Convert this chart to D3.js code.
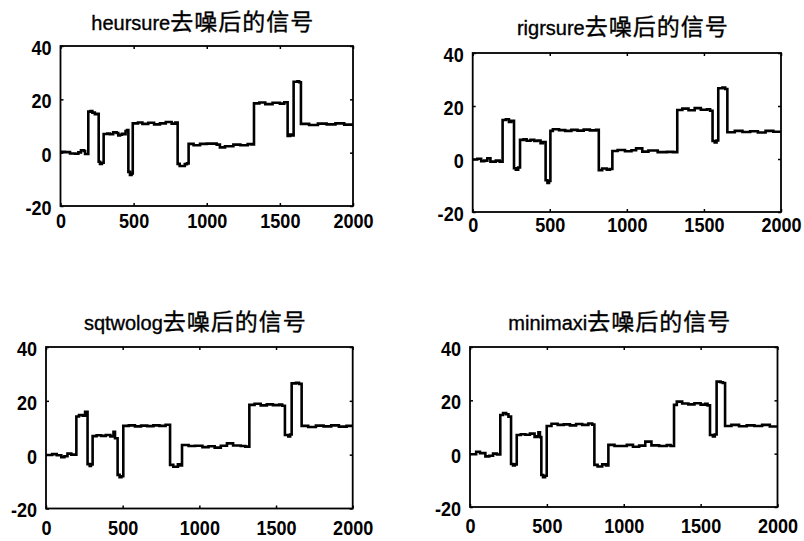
<!DOCTYPE html>
<html>
<head>
<meta charset="utf-8">
<script src="https://cdn.jsdelivr.net/npm/d3@7"></script>
<style>
  body { margin: 0; background: #fff; }
  svg { display: block; }
</style>
</head>
<body>
<svg id="chart" width="804" height="541"></svg>
<script>
// Axis ticks and limits shared by the four panels
const xTicks = [0, 500, 1000, 1500, 2000];
const yTicks = [-20, 0, 20, 40];
const xDomain = [0, 2000];
const yDomain = [-20, 40];

// Threshold rule names, one per panel, and the common title ending
const methods = ["heursure", "rigrsure", "sqtwolog", "minimaxi"];
const titleSuffix = "去噪后的信号";

// Denoised signals: [sample index, amplitude]; each value holds until the next index
const heursure = [
  [0, 0.3], [30, 0.2], [65, -0.3], [100, -0.4], [122, 0.1], [140, 0.9], [160, 0.6], [168, -0.5],
  [190, 15.4], [205, 15.6], [218, 15.0], [235, 14.4], [248, 14.6],
  [261, -3.4], [270, -4.2], [283, -3.8],
  [295, 7.0], [320, 7.2], [338, 6.9], [360, 7.6], [384, 7.4], [395, 6.5], [407, 6.7], [420, 7.1], [434, 6.9], [445, 8.1], [455, 8.5],
  [464, -7.2], [475, -8.4], [486, -7.8],
  [494, 11.0], [530, 11.3], [560, 10.8], [600, 11.2], [640, 10.6], [680, 11.0], [720, 11.5], [760, 10.9], [785, 11.3],
  [801, -4.2], [815, -5.0], [850, -4.3], [865, -4.0],
  [876, 3.3], [910, 2.8], [954, 3.3], [1000, 3.4], [1068, 3.0], [1090, 2.0], [1125, 2.4], [1182, 3.0], [1230, 2.8], [1280, 3.2], [1305, 3.1],
  [1323, 18.5], [1360, 18.8], [1400, 18.2], [1450, 18.7], [1500, 18.4], [1530, 18.9],
  [1553, 6.3], [1570, 6.8], [1582, 6.5],
  [1594, 26.6], [1620, 26.8], [1632, 26.4],
  [1644, 10.8], [1700, 10.4], [1760, 10.9], [1820, 10.6], [1880, 11.0], [1940, 10.5], [2000, 10.8]
];

const rigrsure = [
  [0, -0.2], [30, 0.1], [55, -0.8], [75, -0.6], [95, 0.3], [115, -1.0], [150, -0.6], [175, -1.0],
  [194, 14.7], [215, 15.0], [235, 14.0], [250, 14.4],
  [268, -3.5], [280, -4.0], [295, -3.2],
  [307, 7.2], [330, 7.4], [350, 6.9], [375, 7.2], [400, 6.8], [420, 7.0], [440, 6.0], [455, 6.4],
  [473, -8.0], [485, -9.0], [495, -8.3],
  [504, 10.6], [520, 11.2], [560, 10.9], [600, 10.6], [640, 11.0], [680, 10.7], [720, 11.1], [760, 10.8], [800, 11.0],
  [818, -4.2], [840, -3.6], [870, -4.0], [890, -3.8],
  [906, 3.0], [940, 3.4], [988, 2.9], [1030, 3.3], [1060, 4.0], [1100, 2.8], [1140, 3.2], [1200, 2.6], [1260, 2.7], [1300, 2.6],
  [1327, 18.5], [1360, 19.0], [1400, 18.4], [1440, 19.2], [1480, 18.6], [1520, 18.8], [1540, 18.2],
  [1556, 6.8], [1570, 6.2], [1582, 7.0],
  [1593, 26.7], [1620, 27.0], [1638, 26.4],
  [1652, 10.1], [1700, 10.6], [1750, 10.2], [1800, 10.5], [1850, 10.0], [1900, 10.6], [1950, 10.3], [2000, 10.0]
];

const sqtwolog = [
  [0, -0.1], [40, 0.2], [70, -0.2], [100, -0.9], [120, -0.6], [140, 0.4], [165, 0.0],
  [198, 14.2], [215, 14.7], [240, 14.5], [255, 15.9],
  [271, -3.5], [285, -4.2], [293, -3.6],
  [304, 6.9], [330, 7.2], [360, 7.0], [390, 7.3], [420, 6.8], [440, 8.5], [450, 6.1],
  [467, -7.5], [480, -8.4], [492, -8.0],
  [504, 10.7], [540, 10.9], [580, 10.5], [620, 10.8], [660, 10.6], [700, 10.9], [740, 10.7], [780, 11.1],
  [809, -3.8], [830, -4.5], [860, -3.6], [875, -4.0],
  [887, 3.6], [930, 3.2], [972, 3.3], [1020, 2.8], [1060, 3.1], [1100, 2.6], [1140, 3.3], [1180, 4.2], [1220, 3.4], [1270, 3.2], [1300, 3.0],
  [1326, 18.5], [1360, 18.9], [1400, 18.3], [1440, 18.7], [1480, 18.4], [1520, 18.6], [1540, 18.2],
  [1558, 7.3], [1580, 6.8], [1592, 7.5],
  [1602, 26.5], [1630, 26.7], [1650, 26.3],
  [1667, 10.7], [1710, 10.3], [1760, 10.8], [1810, 10.5], [1860, 10.9], [1910, 10.4], [1960, 10.7], [2000, 10.9]
];

const minimaxi = [
  [0, -0.2], [40, 0.7], [65, 0.2], [100, -1.0], [125, -0.8], [150, 0.0], [175, -0.3],
  [197, 14.5], [215, 15.2], [235, 14.8], [250, 13.9],
  [267, -3.9], [280, -4.4], [292, -4.0],
  [304, 7.0], [330, 7.3], [360, 7.1], [390, 7.5], [420, 6.3], [435, 6.5], [445, 8.0], [455, 6.2],
  [464, -8.0], [475, -8.8], [488, -8.3],
  [499, 10.4], [530, 11.2], [570, 10.8], [610, 11.0], [650, 10.6], [690, 11.1], [730, 10.8], [770, 11.3], [795, 10.9],
  [809, -4.2], [830, -4.8], [860, -4.0], [885, -4.4],
  [900, 3.3], [940, 2.9], [976, 2.9], [1020, 3.3], [1060, 2.6], [1100, 3.0], [1140, 4.5], [1180, 3.1], [1230, 2.9], [1280, 3.2], [1305, 2.9],
  [1327, 18.3], [1345, 19.5], [1380, 18.8], [1420, 18.5], [1460, 18.9], [1500, 18.4], [1530, 18.7], [1545, 18.1],
  [1561, 7.0], [1580, 6.5], [1592, 7.2],
  [1604, 27.0], [1630, 26.8], [1645, 26.5],
  [1659, 10.4], [1700, 10.8], [1750, 10.3], [1800, 10.6], [1850, 10.4], [1900, 10.8], [1950, 10.2], [2000, 10.7]
];

const seriesList = [heursure, rigrsure, sqtwolog, minimaxi];

// Placement of each axes box on the page
const boxes = [
  { left: 60.5, right: 353, top: 46, bottom: 206, titleY: 22, labelPad: 7 },
  { left: 472.7, right: 781, top: 53, bottom: 212, titleY: 27, labelPad: 5 },
  { left: 46, right: 352.7, top: 347, bottom: 508.5, titleY: 322, labelPad: 11.5 },
  { left: 470, right: 777.5, top: 347, bottom: 507, titleY: 322, labelPad: 11 }
];

const svg = d3.select("#chart");
const tickFont = "'Liberation Sans', Arial, sans-serif";
const squeeze = 0.86;   // horizontal squeeze of the tick numerals

boxes.forEach((b, i) => {
  const x = d3.scaleLinear().domain(xDomain).range([b.left, b.right]);
  const y = d3.scaleLinear().domain(yDomain).range([b.bottom, b.top]);
  const g = svg.append("g");

  const clipId = "clip" + i;
  svg.append("clipPath").attr("id", clipId)
    .append("rect")
    .attr("x", b.left).attr("y", b.top)
    .attr("width", b.right - b.left).attr("height", b.bottom - b.top);

  // signal trace
  const line = d3.line()
    .x(d => x(d[0]))
    .y(d => y(d[1]))
    .curve(d3.curveStepAfter);
  g.append("path")
    .datum(seriesList[i])
    .attr("clip-path", `url(#${clipId})`)
    .attr("fill", "none")
    .attr("stroke", "#000")
    .attr("stroke-width", 2.6)
    .attr("stroke-linejoin", "miter")
    .attr("d", line);

  // axes: labelled bottom/left, ticks only on top/right, all ticks pointing inwards
  const fmt = d => String(d);
  const leftPad = 9;
  const bottom = g.append("g").attr("transform", `translate(0,${b.bottom})`)
    .call(d3.axisBottom(x).tickValues(xTicks).tickFormat(fmt).tickSizeInner(-3).tickSizeOuter(0).tickPadding(b.labelPad));
  const left = g.append("g").attr("transform", `translate(${b.left},0)`)
    .call(d3.axisLeft(y).tickValues(yTicks).tickFormat(fmt).tickSizeInner(-3).tickSizeOuter(0).tickPadding(leftPad));
  const top = g.append("g").attr("transform", `translate(0,${b.top})`)
    .call(d3.axisTop(x).tickValues(xTicks).tickFormat("").tickSizeInner(-3).tickSizeOuter(0));
  const right = g.append("g").attr("transform", `translate(${b.right},0)`)
    .call(d3.axisRight(y).tickValues(yTicks).tickFormat("").tickSizeInner(-3).tickSizeOuter(0));

  [bottom, left, top, right].forEach(a => {
    a.select(".domain").remove();
    a.selectAll(".tick line").attr("stroke", "#000").attr("stroke-width", 1.5);
    a.selectAll(".tick text")
      .attr("fill", "#000")
      .style("font-family", tickFont)
      .style("font-size", "21px")
      .style("font-weight", "bold");
  });
  bottom.selectAll(".tick text").attr("transform", `scale(${squeeze},1)`);
  left.selectAll(".tick text")
    .attr("dy", "0.40em")
    .attr("x", -leftPad / squeeze)
    .attr("transform", `scale(${squeeze},1)`);

  // axes frame
  g.append("rect")
    .attr("x", b.left).attr("y", b.top)
    .attr("width", b.right - b.left).attr("height", b.bottom - b.top)
    .attr("fill", "none").attr("stroke", "#000").attr("stroke-width", 1.8);

  // panel title
  const t = g.append("text")
    .attr("x", (b.left + b.right) / 2 - 4)
    .attr("y", b.titleY + 7.5)
    .attr("text-anchor", "middle")
    .attr("fill", "#000")
    .attr("stroke", "#000")
    .attr("stroke-width", 0.35);
  t.append("tspan")
    .style("font-family", tickFont)
    .style("font-size", "20px")
    .text(methods[i]);
  t.append("tspan")
    .style("font-family", "'Noto Sans CJK SC', sans-serif")
    .style("font-size", "23px")
    .style("letter-spacing", "1px")
    .text(titleSuffix);
});
</script>
</body>
</html>
